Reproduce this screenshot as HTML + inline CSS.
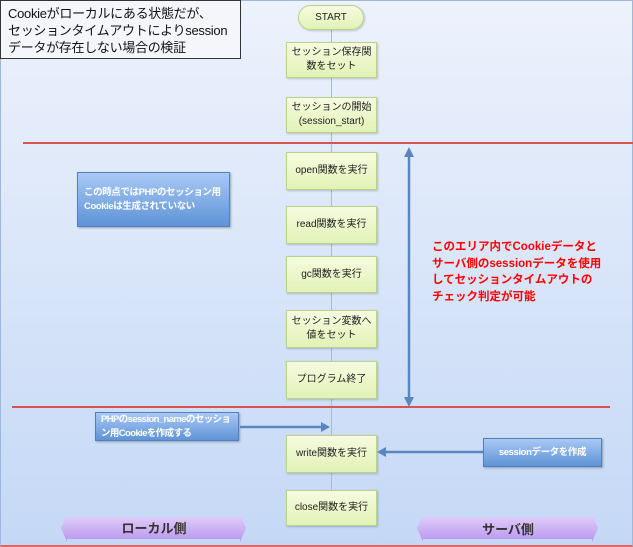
<!DOCTYPE html>
<html><head><meta charset="utf-8"><style>
*{margin:0;padding:0;box-sizing:border-box}
body{width:633px;height:547px;overflow:hidden;font-family:"Liberation Sans","Noto Sans CJK JP",sans-serif;position:relative;
background:linear-gradient(#edf2fc,#c4d8f6);}
.frame{position:absolute;left:0;top:0;width:633px;height:547px;border:1px solid #9fb7dd;border-bottom:2px solid #d66}
.b{position:absolute;background:linear-gradient(#f6fbe0,#e2f2b6);border:1px solid #b9d48a;font-size:10px;color:#222;display:flex;align-items:center;justify-content:center;text-align:center;line-height:14px;box-shadow:1px 1px 2px rgba(0,0,0,.2);white-space:nowrap}
.bl{position:absolute;background:linear-gradient(#a9c8f5,#5e94d6);border:1px solid #5580c0;color:#fff;font-size:9.5px;font-weight:bold;letter-spacing:-0.4px;line-height:14px;box-shadow:1px 1px 2px rgba(0,0,0,.3);display:flex;align-items:center;white-space:nowrap}
.red{position:absolute;height:2px;background:#d9534f}
</style></head><body>
<div class="frame"></div>
<div style="position:absolute;left:0;top:0;width:241px;height:59px;border:1px solid #333;background:#f4f6fc;font-size:13px;line-height:17px;padding:4px 0 0 7px;color:#111;white-space:nowrap;letter-spacing:-0.3px">Cookieがローカルにある状態だが、<br>セッションタイムアウトによりsession<br>データが存在しない場合の検証</div>
<div style="position:absolute;left:331px;top:29px;width:1px;height:496px;background:#a8c890"></div>
<div class="b" style="left:298px;top:5px;width:66px;height:25px;border-radius:13px">START</div>
<div class="b" style="left:286px;top:42px;width:91px;height:36px">セッション保存関<br>数をセット</div>
<div class="b" style="left:286px;top:97px;width:91px;height:36px">セッションの開始<br>(session_start)</div>
<div class="red" style="left:23px;top:142px;width:610px"></div>
<div class="b" style="left:286px;top:152px;width:91px;height:38px">open関数を実行</div>
<div class="b" style="left:286px;top:206px;width:91px;height:38px">read関数を実行</div>
<div class="b" style="left:286px;top:256px;width:91px;height:37px">gc関数を実行</div>
<div class="b" style="left:286px;top:310px;width:91px;height:38px">セッション変数へ<br>値をセット</div>
<div class="b" style="left:286px;top:361px;width:91px;height:38px">プログラム終了</div>
<div class="red" style="left:12px;top:406px;width:598px"></div>
<div class="b" style="left:286px;top:435px;width:91px;height:38px">write関数を実行</div>
<div class="b" style="left:286px;top:490px;width:91px;height:36px">close関数を実行</div>
<div class="bl" style="left:77px;top:172px;width:153px;height:55px;padding-left:6px">この時点ではPHPのセッション用<br>Cookieは生成されていない</div>
<div class="bl" style="left:95px;top:412px;width:144px;height:29px;padding-left:5px;letter-spacing:-0.6px">PHPのsession_nameのセッショ<br>ン用Cookieを作成する</div>
<div class="bl" style="left:483px;top:438px;width:119px;height:29px;justify-content:center">sessionデータを作成</div>
<div style="position:absolute;left:432px;top:239px;color:#f00;font-size:11.5px;font-weight:bold;line-height:16.5px;white-space:nowrap">このエリア内でCookieデータと<br>サーバ側のsessionデータを使用<br>してセッションタイムアウトの<br>チェック判定が可能</div>
<svg width="633" height="547" style="position:absolute;left:0;top:0">
<g stroke="#5b86bd" stroke-width="2.5" fill="none">
<line x1="409" y1="154" x2="409" y2="400"/>
<line x1="240" y1="427" x2="324" y2="427"/>
<line x1="483" y1="452" x2="384" y2="452"/>
</g>
<g fill="#5b86bd">
<polygon points="409,147 404,157 414,157"/><polygon points="409,407 404,397 414,397"/>
<polygon points="330,427 321,422 321,432"/><polygon points="377,452 386,447 386,457"/>
</g>
<defs><linearGradient id="p" x1="0" y1="0" x2="0" y2="1"><stop offset="0" stop-color="#e3d2fb"/><stop offset="1" stop-color="#b995ef"/></linearGradient></defs>
<polygon points="61,528 67,514 67,517 240,517 240,514 246,528 240,542 240,539 67,539 67,542" fill="url(#p)"/>
<polygon points="417,528 423,514 423,517 592,517 592,514 598,528 592,542 592,539 423,539 423,542" fill="url(#p)"/>
<text x="154" y="533" text-anchor="middle" font-size="13" font-weight="bold" fill="#333" font-family="Liberation Sans, Noto Sans CJK JP, sans-serif">ローカル側</text>
<text x="508" y="534" text-anchor="middle" font-size="13" font-weight="bold" fill="#333" font-family="Liberation Sans, Noto Sans CJK JP, sans-serif">サーバ側</text>
</svg>
</body></html>
